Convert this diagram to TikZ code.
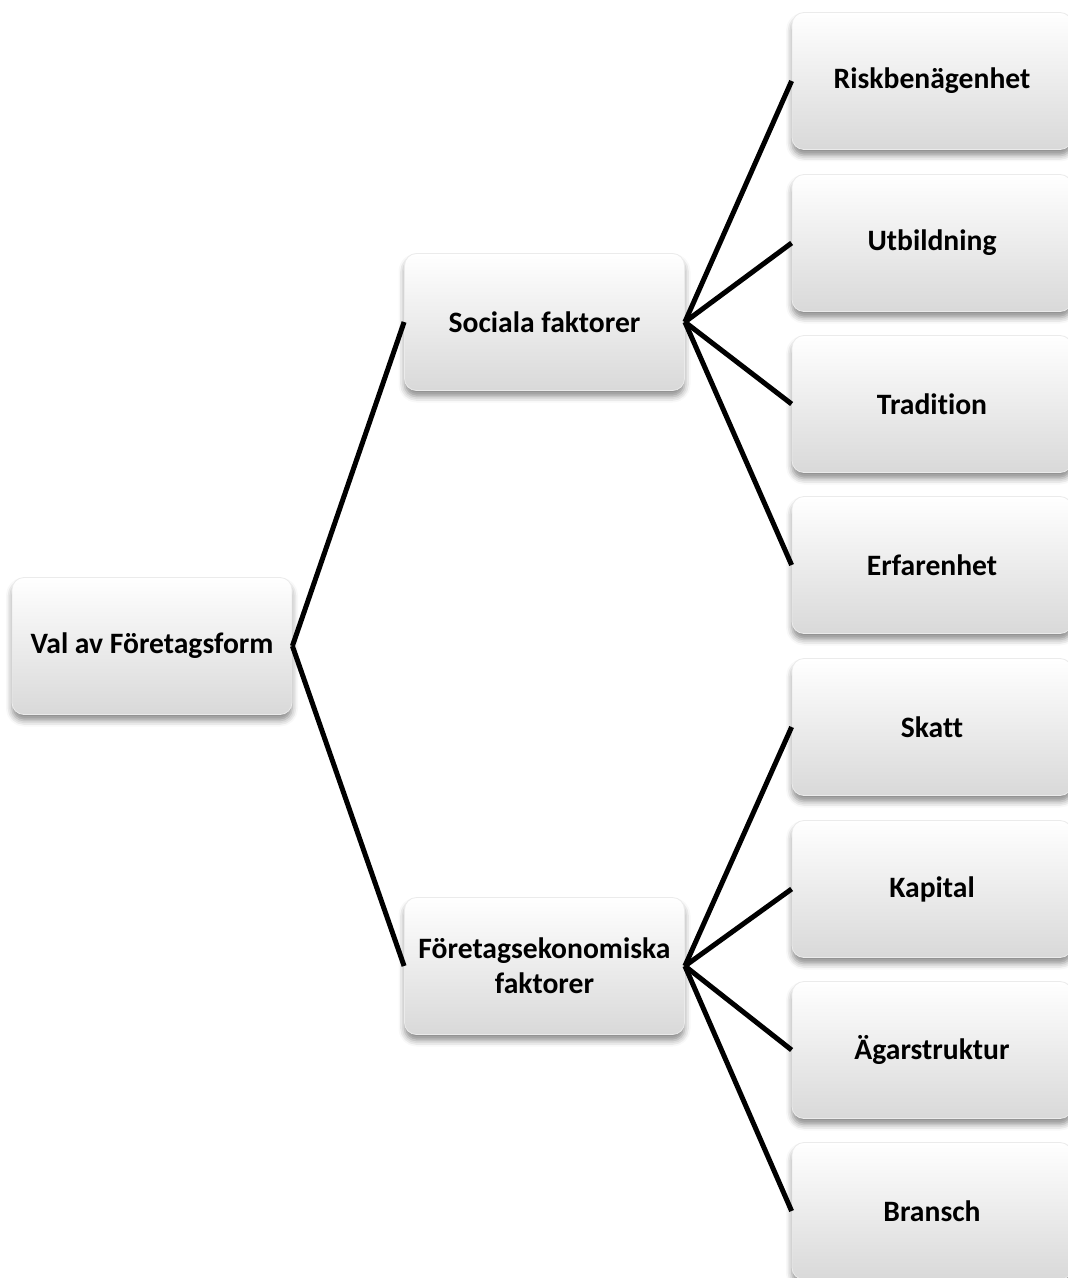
\documentclass[tikz,border=0pt]{standalone}
\usepackage{fontspec}
\setmainfont[Ligatures=NoCommon]{Carlito}
\usepackage{tikz}
\usetikzlibrary{shadows.blur, positioning}

\tikzset{
    box/.style={rectangle, rounded corners=6pt, minimum width=140pt, minimum height=68.5pt,
        top color=white, bottom color=black!15, draw=black!8, line width=0.4pt,
        blur shadow={shadow xshift=0pt, shadow yshift=-3pt, shadow blur radius=3pt, shadow opacity=45},
        align=center, font=\fontsize{14.8}{17.5}\selectfont\bfseries, inner sep=2pt},
    link/.style={line width=2.5pt, black}
}

\begin{document}
\begin{tikzpicture}[x=0.5pt, y=-0.5pt]
                            \useasboundingbox (0, 0) rectangle (1068, 1278);
                            \node[box] (val) at (152, 646) {Val av Företagsform};
                            \node[box] (social) at (544.5, 322) {Sociala faktorer};
                            \node[box] (ekonomi) at (544.5, 966) {Företagsekonomiska\\faktorer};
                            \node[box] (risk) at (932, 81) {Riskbenägenhet};
                            \node[box] (utb) at (932, 243) {Utbildning};
                            \node[box] (trad) at (932, 404) {Tradition};
                            \node[box] (erf) at (932, 565) {Erfarenhet};
                            \node[box] (skatt) at (932, 727) {Skatt};
                            \node[box] (kap) at (932, 889) {Kapital};
                            \node[box] (agar) at (932, 1050) {Ägarstruktur};
                            \node[box] (bransch) at (932, 1211) {Bransch};
                            \draw[link]
                            (val.east) edge (social.west)
                            (val.east) edge (ekonomi.west)
                            (social.east) edge (risk.west)
                            (social.east) edge (utb.west)
                            (social.east) edge (trad.west)
                            (social.east) edge (erf.west)
                            (ekonomi.east) edge (skatt.west)
                            (ekonomi.east) edge (kap.west)
                            (ekonomi.east) edge (agar.west)
                            (ekonomi.east) edge (bransch.west);
                        \end{tikzpicture}
\end{document}
